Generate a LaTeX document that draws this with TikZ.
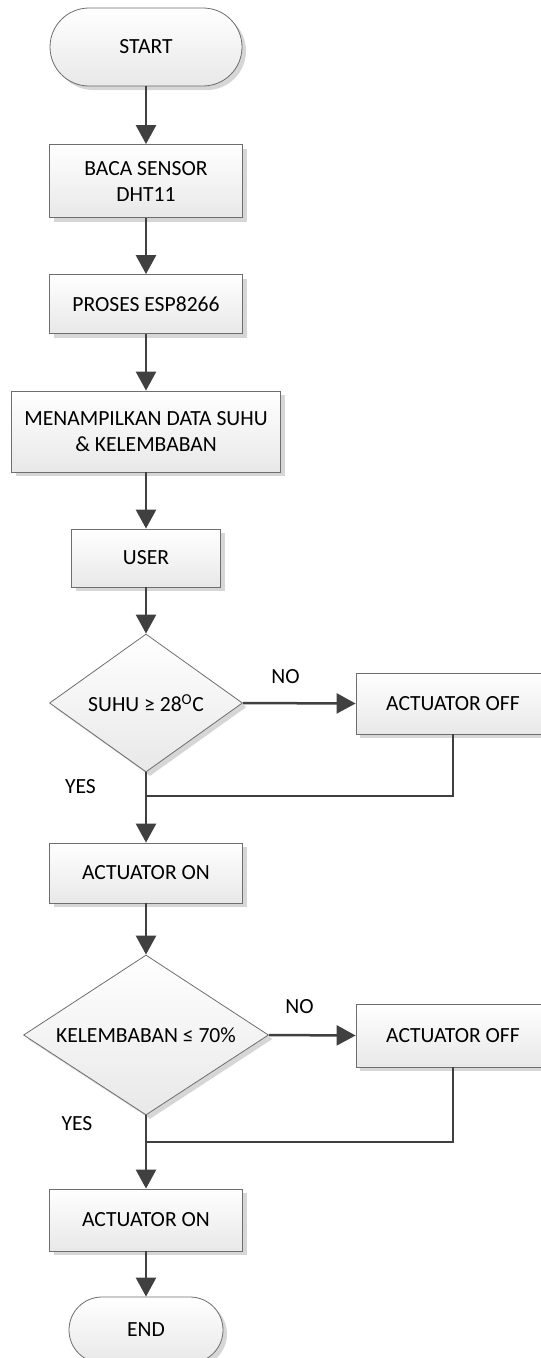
\documentclass[tikz,border=0pt]{standalone}
\usepackage{fontspec}
\setmainfont{Carlito}
\usetikzlibrary{shapes.geometric, arrows.meta, shadows}

\definecolor{linegray}{HTML}{404040}
\definecolor{edgegray}{HTML}{6E6E6E}

\begin{document}
\begin{tikzpicture}[
  x=1pt, y=-1pt,
  every node/.style={font=\fontsize{21.6}{26}\selectfont},
  shape base/.style={draw=edgegray, line width=0.8pt,
    top color=white, bottom color=black!9, inner sep=0pt, align=center,
    drop shadow={shadow xshift=4pt, shadow yshift=-4pt, fill=black!16, opacity=1}},
  box/.style={shape base, rectangle},
  term/.style={shape base, rectangle},
  decision/.style={shape base, diamond},
  flow/.style={-{Triangle[width=20pt, length=19pt]}, draw=linegray, line width=2.5pt},
  link/.style={draw=linegray, line width=2.5pt},
  lbl/.style={inner sep=0pt}
]

%% ── frame ────────────────────────────────────────────────────────────────────
\useasboundingbox (0,0) rectangle (541,1358);

%% ── main column ──────────────────────────────────────────────────────────────
\node[term, rounded corners=39pt, minimum width=192pt, minimum height=78pt]
  (start) at (146,47) {START};
\node[box, minimum width=193pt, minimum height=73pt]
  (sensor) at (146,181) {BACA SENSOR\\DHT11};
\node[box, minimum width=193pt, minimum height=59pt]
  (proses) at (146,304) {PROSES ESP8266};
\node[box, minimum width=269pt, minimum height=81pt]
  (tampil) at (146,431.5) {MENAMPILKAN DATA SUHU\\\& KELEMBABAN};
\node[box, minimum width=149pt, minimum height=58pt]
  (user) at (146,558) {USER};
\node[decision, aspect=1.4, minimum width=193pt, minimum height=138pt]
  (suhu) at (146,703) {SUHU ≥ 28\textsuperscript{O}C};
\node[box, minimum width=193pt, minimum height=60pt]
  (onA) at (146,873) {ACTUATOR ON};
\node[decision, aspect=1.53, minimum width=245pt, minimum height=160pt]
  (lembab) at (146,1035) {KELEMBABAN ≤ 70\%};
\node[box, minimum width=193pt, minimum height=62pt]
  (onB) at (146,1220) {ACTUATOR ON};
\node[term, rounded corners=33pt, minimum width=154pt, minimum height=66pt]
  (end) at (146,1330) {END};

%% ── side branch ──────────────────────────────────────────────────────────────
\node[box, minimum width=194pt, minimum height=61pt]
  (offA) at (453,703.5) {ACTUATOR OFF};
\node[box, minimum width=194pt, minimum height=63pt]
  (offB) at (453,1035.5) {ACTUATOR OFF};

%% ── junctions ────────────────────────────────────────────────────────────────
\coordinate (jA) at (146,796);
\coordinate (jB) at (146,1142);

%% ── connectors ───────────────────────────────────────────────────────────────
\draw[flow] (start) -- (sensor);
\draw[flow] (sensor) -- (proses);
\draw[flow] (proses) -- (tampil);
\draw[flow] (tampil) -- (user);
\draw[flow] (user) -- (suhu);
\draw[flow] (suhu.east) -- (offA.west);
\draw[link] (offA.south) |- (jA);
\draw[flow] (suhu.south) -- (onA);
\draw[flow] (onA) -- (lembab);
\draw[flow] (lembab.east) -- (offB.west);
\draw[link] (offB.south) |- (jB);
\draw[flow] (lembab.south) -- (onB);
\draw[flow] (onB) -- (end);

%% ── branch labels ────────────────────────────────────────────────────────────
\node[lbl] (noA)  at (285.5,677)  {NO};
\node[lbl] (yesA) at (80.5,787)   {YES};
\node[lbl] (noB)  at (299.5,1007) {NO};
\node[lbl] (yesB) at (77,1124)    {YES};

\end{tikzpicture}
\end{document}
